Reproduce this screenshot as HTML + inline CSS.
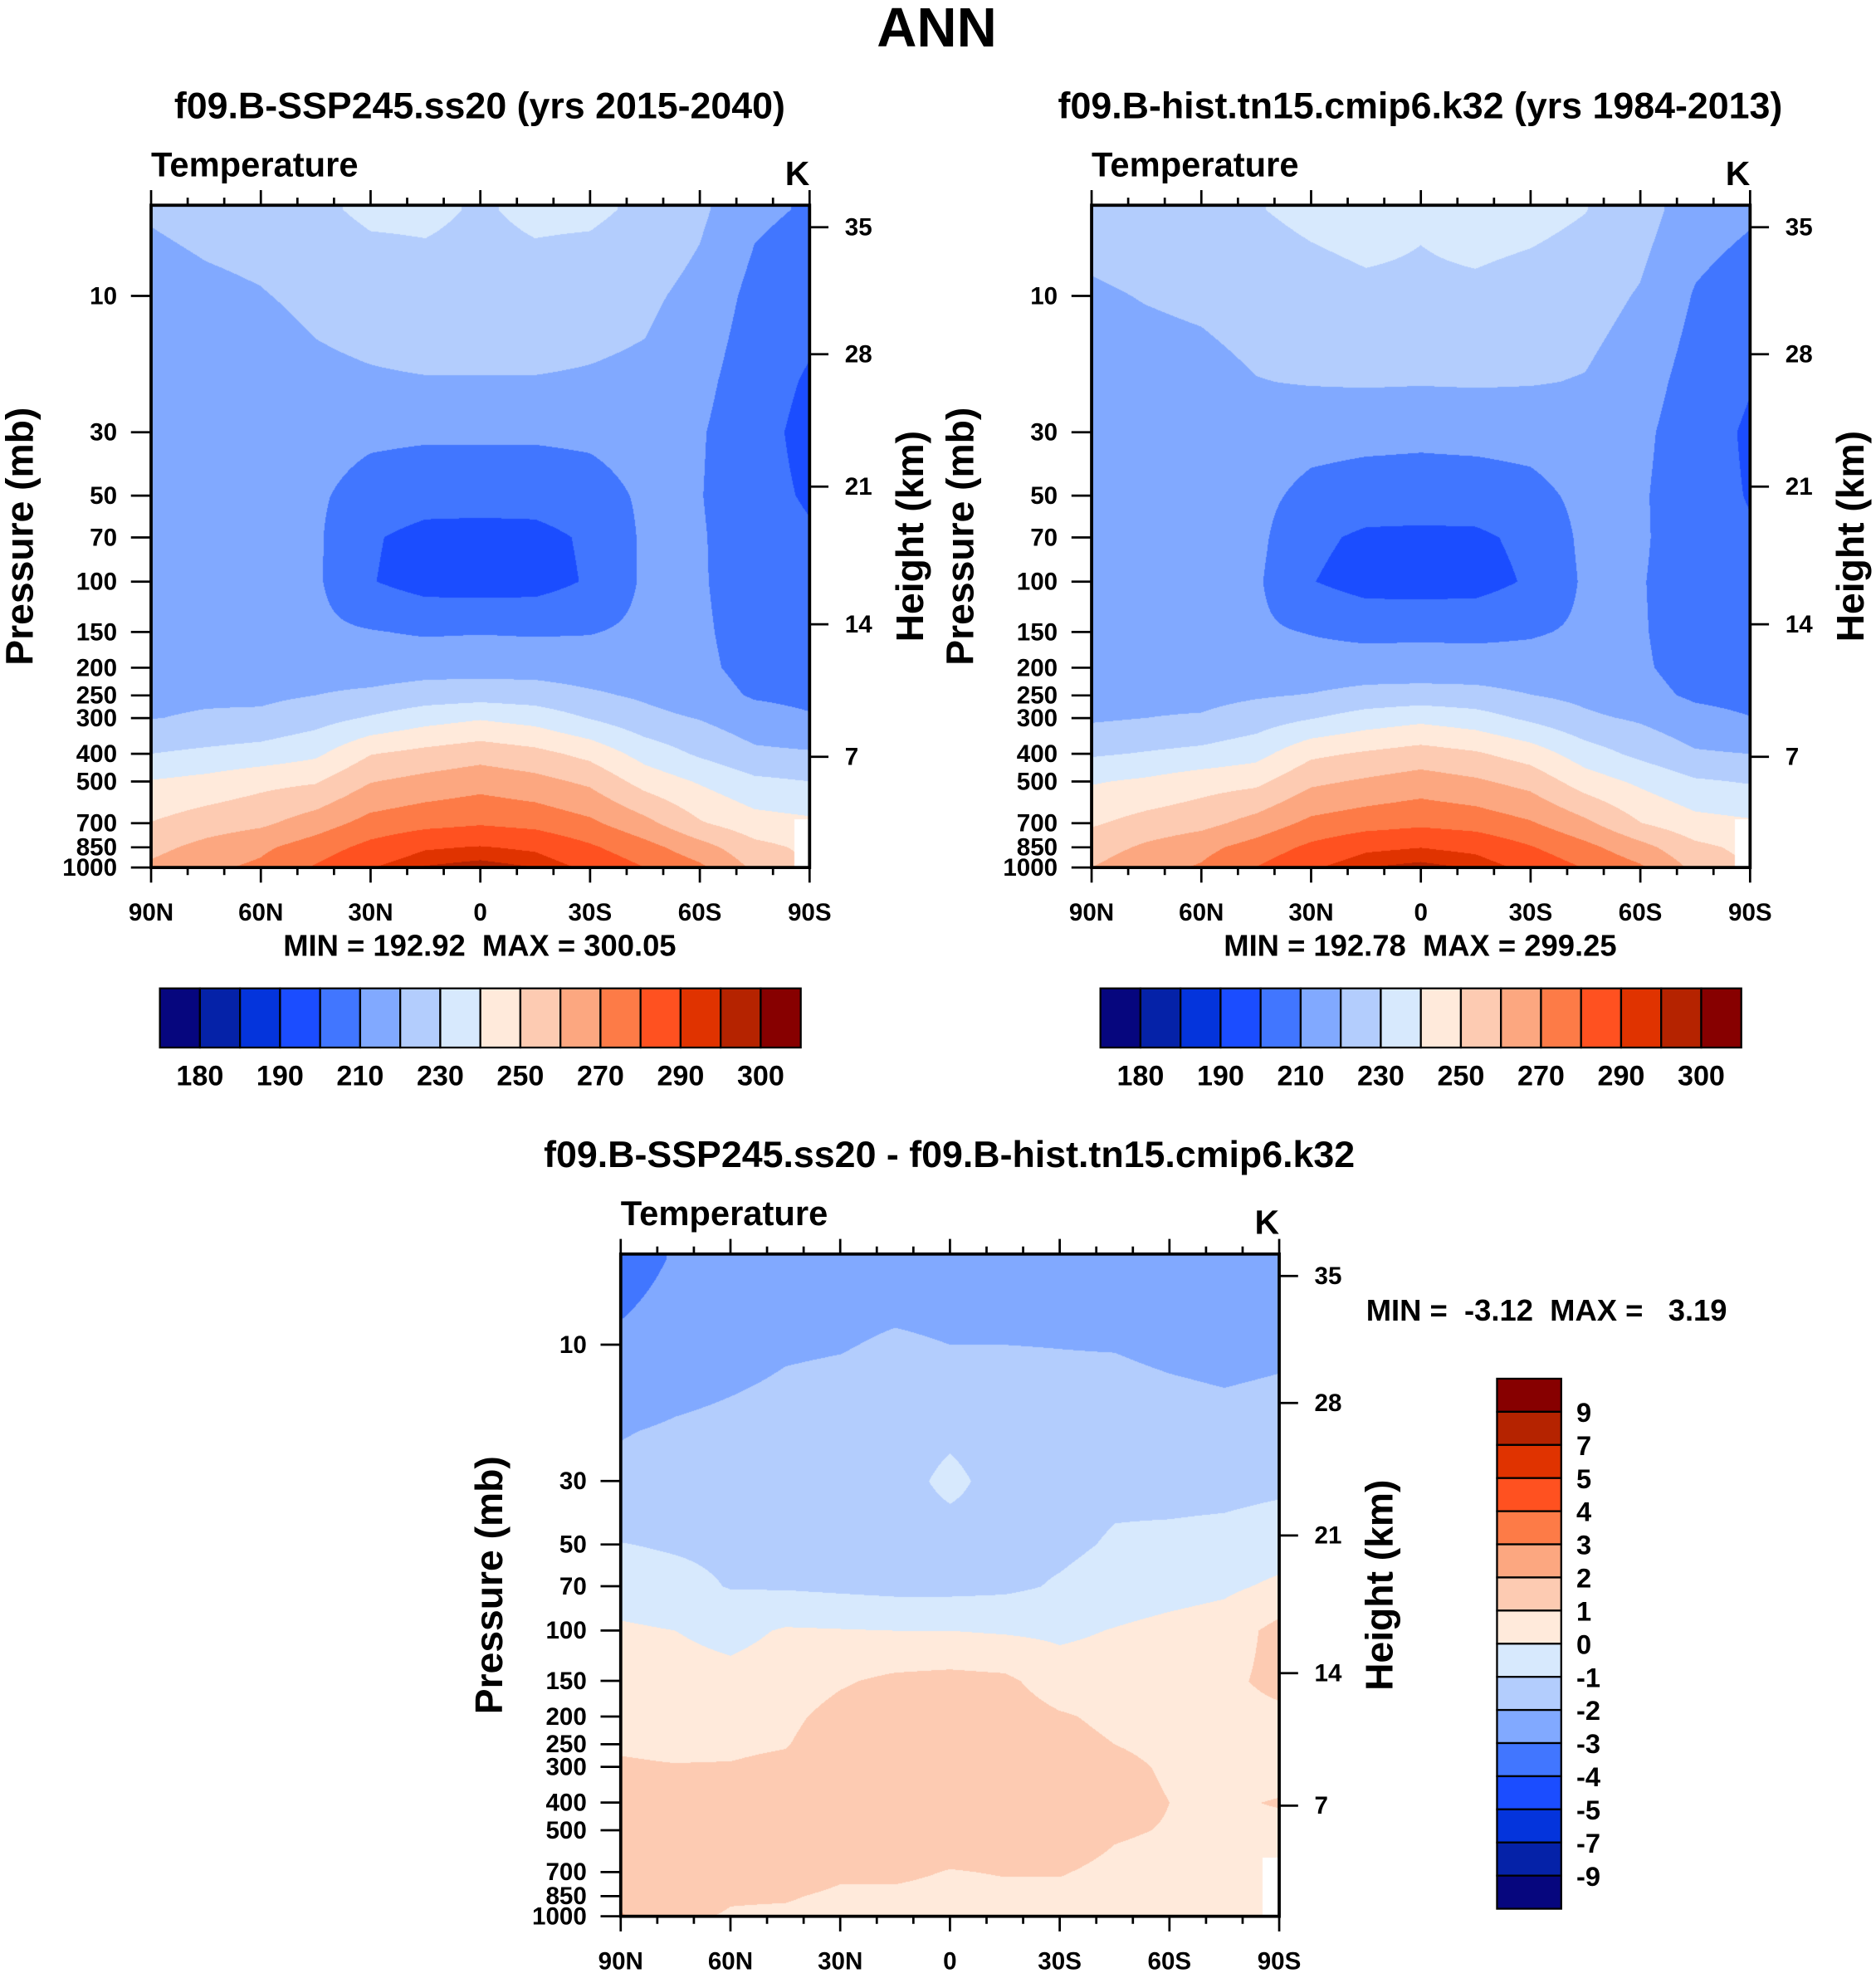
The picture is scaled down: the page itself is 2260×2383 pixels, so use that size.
<!DOCTYPE html>
<html><head><meta charset="utf-8"><style>
html,body{margin:0;padding:0;background:#fff;}
#wrap{position:relative;width:2260px;height:2383px;overflow:hidden;background:#fff;}
canvas{position:absolute;}
svg{position:absolute;left:0;top:0;}
text{font-family:"Liberation Sans",sans-serif;font-weight:bold;fill:#000;white-space:pre;}
</style></head><body>
<div id="wrap">
<canvas id="c1"></canvas>
<canvas id="c2"></canvas>
<canvas id="c3"></canvas>
<svg id="svg" width="2260" height="2383" viewBox="0 0 1490 1571" preserveAspectRatio="none" xml:space="preserve"></svg>
</div>
<script>
// ---- data ----
const lats=[90,75,60,45,30,15,0,-15,-30,-45,-60,-75,-90];
const plev=[5,10,20,30,50,70,100,150,200,250,300,400,500,700,850,1000];
const sspT=[
[221,216,214,213,213,214,215,216,217,218,219.7,230,240.5,250.3,257,262],
[223,218,214,212,212,213,214,215,217,218.5,221,232,243,255,263,268],
[224,219.5,215,213,212,212.5,213,214,216,218,222,234,247,258,268,272],
[228,222,218,214,211.5,211.5,211.5,212,216,220,226,238,249,265,275,281],
[232,224,219,212,206,201,200.5,210.5,215,222,231,249.5,259.5,273.5,283,289.5],
[232,226,219.5,211.5,204,197,196,209,216,225,236,253,263,277,289,295.5],
[229,226,219.5,211.5,204,196.5,195.5,209.5,216,226,239,256,266,279,290.5,297.5],
[232,226,219.5,211.5,204,197,196,209,216,225,236,253,263,277,288.5,295],
[232,224,219,212,206,201.5,201,209.5,215,221.5,229.5,247,258,272,281.5,288],
[228,222,218,214,211.5,211.5,211.5,212,215,218.5,223,236,246,263,273.5,280],
[222,217,213,211,210.5,211,211,211.5,212,214,219.5,228.5,239,251,264,272],
[212,207,204,203,203,204,205,206,207,209,214,222,232,244,253,258],
[209,203,199,197.5,199,201,203,205,206,207.5,211,221,230,242,248,250]];
const histT=[
[224.3,218.7,216,214.8,214,214.5,214.8,215.5,216.2,217,218.6,228.7,239.1,248.8,255.3,259.9],
[225.7,220.5,215.9,213.6,213.1,213.7,214,214.6,216.3,217.6,220,230.7,241.6,253.6,261.7,266.9],
[226.6,221.8,216.8,214.5,213.2,213.5,213.3,213.7,215.4,217.1,220.9,232.7,245.6,256.7,267,271],
[229.5,224.1,219.7,215.5,212.8,212.4,211.4,211.5,215.2,219,224.8,236.5,247.5,263.7,274,280.1],
[232.4,226,220.6,213.5,207.3,202.2,200.4,209.6,213.7,220.5,229.4,247.8,257.9,272.4,282.1,288.7],
[234.4,227.9,221,212.9,205.4,198.3,196,207.8,214.5,223.4,234.3,251.2,261.3,275.8,288.2,294.9],
[231.4,228,220.7,212.2,205.4,197.8,195.5,208.2,214.4,224.3,237.2,254.2,264.4,278,289.8,296.9],
[234.4,228,221,212.9,205.3,198.2,196.1,207.8,214.5,223.4,234.3,251.2,261.4,275.9,287.7,294.3],
[233.3,226,220.6,213.4,207.2,202.4,201.2,209,213.9,220.2,228,245.4,256.5,271,280.7,287.3],
[230.3,224,219.5,215.2,212.4,212.1,211.4,211.5,214.2,217.5,221.8,234.7,244.9,262.2,272.8,279.4],
[224.4,219.2,214.6,212.3,211.3,211.4,210.7,210.9,211.3,213.2,218.6,227.5,238,250.3,263.4,271.5],
[214.5,209.3,205.7,204.3,203.7,204.2,204.5,205.2,206.3,208.4,213.3,221.1,231.2,243.4,252.4,257.5],
[211.5,205.2,200.6,198.7,199.5,200.8,201.7,203.75,205.2,206.9,210.3,219.95,229.2,241.4,247.5,249.5]];
const diffT=[
[-3.5,-2.8,-2.05,-1.8,-0.97,-0.5,0.15,0.5,0.8,0.95,1.05,1.3,1.4,1.5,1.7,2.1],
[-2.9,-2.5,-1.9,-1.6,-1.1,-0.7,0.0,0.4,0.7,0.9,1.02,1.3,1.35,1.4,1.3,1.1],
[-2.6,-2.3,-1.8,-1.5,-1.2,-1.05,-0.3,0.3,0.6,0.85,1.05,1.3,1.4,1.3,1.05,0.95],
[-2.5,-2.1,-1.7,-1.5,-1.3,-1.1,0.1,0.5,0.8,0.95,1.2,1.5,1.5,1.3,1.05,0.9],
[-2.4,-2.05,-1.6,-1.5,-1.35,-1.2,0.05,0.9,1.3,1.5,1.6,1.7,1.6,1.1,0.9,0.8],
[-2.4,-1.9,-1.5,-1.4,-1.4,-1.3,0.0,1.2,1.5,1.6,1.7,1.8,1.7,1.2,0.8,0.6],
[-2.4,-2.0,-1.2,-0.75,-1.45,-1.3,0.0,1.3,1.6,1.7,1.75,1.8,1.6,0.95,0.7,0.6],
[-2.4,-2.0,-1.5,-1.4,-1.3,-1.2,-0.1,1.2,1.5,1.6,1.7,1.8,1.6,1.05,0.8,0.7],
[-2.3,-2.02,-1.6,-1.4,-1.2,-0.9,-0.2,0.5,1.1,1.3,1.45,1.6,1.5,1.05,0.8,0.7],
[-2.3,-2.05,-1.5,-1.2,-0.9,-0.6,0.05,0.5,0.8,1.0,1.2,1.3,1.1,0.8,0.7,0.6],
[-2.4,-2.2,-1.6,-1.3,-0.8,-0.4,0.3,0.6,0.7,0.8,0.9,1.0,0.95,0.7,0.6,0.5],
[-2.5,-2.3,-1.7,-1.3,-0.7,-0.2,0.5,0.8,0.7,0.6,0.7,0.9,0.8,0.6,0.6,0.5],
[-2.5,-2.2,-1.6,-1.2,-0.5,0.2,1.3,1.25,0.8,0.6,0.7,1.05,0.8,0.6,0.5,0.5]];
const tLevels=[180,185,190,200,210,220,230,240,250,260,270,280,290,295,300];
const dLevels=[-9,-7,-5,-4,-3,-2,-1,0,1,2,3,4,5,7,9];
const colors=["#06067e","#0522a8","#0434dc","#1b4dff","#4176ff","#81a9ff","#b3cdfd","#d7e9fd","#ffeadb","#fdcbb2","#fca780","#fd7b47","#ff5120","#e03300","#b52300","#870000"];
const tLabels=["180","190","210","230","250","270","290","300"];
const dLabels=["9","7","5","4","3","2","1","0","-1","-2","-3","-4","-5","-7","-9"];
const pTicks=[10,30,50,70,100,150,200,250,300,400,500,700,850,1000];
const hTicks=["35","28","21","14","7"];
const hTickP=[5.75,16,46.5,141,410];
const latLabels=["90N","60N","30N","0","30S","60S","90S"];

// ---- geometry ----
const SX=2260/1490, SY=2383/1571;
const PW=523, PH=526;
function yOfP(p,oy){return oy+72+227*Math.log10(p/10);}
function xOfLat(lat,ox){return ox+(90-lat)/180*PW;}
function hexRgb(h){return [parseInt(h.substr(1,2),16),parseInt(h.substr(3,2),16),parseInt(h.substr(5,2),16)];}
const rgb=colors.map(hexRgb);
const lp=plev.map(Math.log10);

function drawField(id,ox,oy,grid,levels,maskLat,maskP){
  const c=document.getElementById(id);
  const L=Math.round(ox*SX),T=Math.round(oy*SY),W=Math.round((ox+PW)*SX)-L,H=Math.round((oy+PH)*SY)-T;
  c.width=W;c.height=H;c.style.left=L+'px';c.style.top=T+'px';c.style.width=W+'px';c.style.height=H+'px';
  const ctx=c.getContext('2d');const img=ctx.createImageData(W,H);const d=img.data;
  for(let py=0;py<H;py++){
    const yv=(py+0.5)/H*PH;
    let lg=1+(yv-72)/227; const p=Math.pow(10,lg);
    if(lg<lp[0])lg=lp[0]; if(lg>lp[lp.length-1])lg=lp[lp.length-1];
    let k=0;while(k<lp.length-2&&lg>lp[k+1])k++;
    const fy=(lg-lp[k])/(lp[k+1]-lp[k]);
    for(let px=0;px<W;px++){
      const fx=(px+0.5)/W*12;let i=Math.min(11,Math.floor(fx));const tx=fx-i;
      const lat=90-fx*15;
      let o=(py*W+px)*4;
      if(lat<maskLat&&p>maskP){d[o]=255;d[o+1]=255;d[o+2]=255;d[o+3]=255;continue;}
      const v=(grid[i][k]*(1-tx)+grid[i+1][k]*tx)*(1-fy)+(grid[i][k+1]*(1-tx)+grid[i+1][k+1]*tx)*fy;
      let ci=0;while(ci<levels.length&&v>=levels[ci])ci++;
      const col=rgb[ci];d[o]=col[0];d[o+1]=col[1];d[o+2]=col[2];d[o+3]=255;
    }
  }
  ctx.putImageData(img,0,0);
}
drawField('c1',120,163,sspT,tLevels,-86,680);
drawField('c2',867,163,histT,tLevels,-86,680);
drawField('c3',493,996,diffT,dLevels,-85.5,620);

// ---- svg ----
const NS="http://www.w3.org/2000/svg";const svg=document.getElementById('svg');
function el(tag,attrs,parent){const e=document.createElementNS(NS,tag);for(const k in attrs)e.setAttribute(k,attrs[k]);(parent||svg).appendChild(e);return e;}
function txt(s,x,y,size,anchor,parent){const t=el('text',{x:x,y:y,'font-size':size,'text-anchor':anchor||'start'},parent);t.textContent=s;return t;}

let t=txt("ANN",744,37,44,'middle');



function panel(name,ox,oy,title,minmax){
  const g=el('g',{});
  
  
  let tt=txt(title,ox+261,oy-69,29.5,'middle',g);
  
  
  tt=txt("Temperature",ox,oy-23,27.5,'start',g);
  
  
  tt=txt("K",ox+PW,oy-16,27,'end',g);
  
  
  for(let lat=90;lat>=-90;lat-=10){
    const x=xOfLat(lat,ox);const major=(lat%30===0);const len=major?12:6;
    const tk=el('line',{x1:x,x2:x,y1:oy-len,y2:oy,stroke:'#000','stroke-width':1.8},g);
    
    
    const tb=el('line',{x1:x,x2:x,y1:oy+PH,y2:oy+PH+len,stroke:'#000','stroke-width':1.8},g);
    
    
  }
  latLabels.forEach((s,i)=>{
    const lt=txt(s,xOfLat(90-30*i,ox),oy+PH+42,19.5,'middle',g);
    
    
  });
  pTicks.forEach(p=>{
    const y=yOfP(p,oy);
    const tk=el('line',{x1:ox-16,x2:ox,y1:y,y2:y,stroke:'#000','stroke-width':1.8},g);
    
    
    const lt=txt(String(p),ox-27,y+6.5,19.5,'end',g);
    
    
  });
  hTicks.forEach((h,i)=>{
    const y=yOfP(hTickP[i],oy);
    const tk=el('line',{x1:ox+PW,x2:ox+PW+15,y1:y,y2:y,stroke:'#000','stroke-width':1.8},g);
    
    
    const lt=txt(h,ox+PW+28,y+6.5,19.5,'start',g);
    
    
  });
  const fr=el('rect',{x:ox,y:oy,width:PW,height:PH,fill:'none',stroke:'#000','stroke-width':2.5},g);
  
  
  const yt=txt("Pressure (mb)",0,0,30.5,'middle',g);
  yt.setAttribute('transform','translate('+(ox-94)+','+(oy+263)+') rotate(-90)');
  
  
  const ht=txt("Height (km)",0,0,30.5,'middle',g);
  ht.setAttribute('transform','translate('+(ox+PW+90)+','+(oy+263)+') rotate(-90)');
  
  
  if(minmax){
    const mm=txt(minmax,ox+261,oy+PH+70,24,'middle',g);
    
    
  }
  return g;
}
function hColorbar(name,x0,y0,w,h){
  const g=el('g',{});
  
  
  const bw=w/16;
  colors.forEach((c,i)=>{
    const r=el('rect',{x:x0+i*bw,y:y0,width:bw,height:h,fill:c,stroke:'#000','stroke-width':1.5},g);
    
    
  });
  tLabels.forEach((s,i)=>{
    const lt=txt(s,x0+(1+2*i)*bw,y0+h+30,22.5,'middle',g);
    
    
  });
}
panel('ssp-panel',120,163,"f09.B-SSP245.ss20 (yrs 2015-2040)","MIN = 192.92  MAX = 300.05");
panel('hist-panel',867,163,"f09.B-hist.tn15.cmip6.k32 (yrs 1984-2013)","MIN = 192.78  MAX = 299.25");
panel('diff-panel',493,996,"f09.B-SSP245.ss20 - f09.B-hist.tn15.cmip6.k32",null);
hColorbar('ssp-colorbar',127,785,509,47);
hColorbar('hist-colorbar',874,785,509,47);
let mm3=txt("MIN =  -3.12  MAX =   3.19",1085,1049,24,'start');


(function(){
  const g=el('g',{});
  
  
  const x0=1189,y0=1095,w=51,h=421,bh=h/16;
  for(let i=0;i<16;i++){
    const r=el('rect',{x:x0,y:y0+i*bh,width:w,height:bh,fill:colors[15-i],stroke:'#000','stroke-width':1.5},g);
    
    
  }
  dLabels.forEach((s,i)=>{
    const lt=txt(s,x0+w+12,y0+(i+1)*bh+8,21.5,'start',g);
    
    
  });
})();
</script>
</body></html>
